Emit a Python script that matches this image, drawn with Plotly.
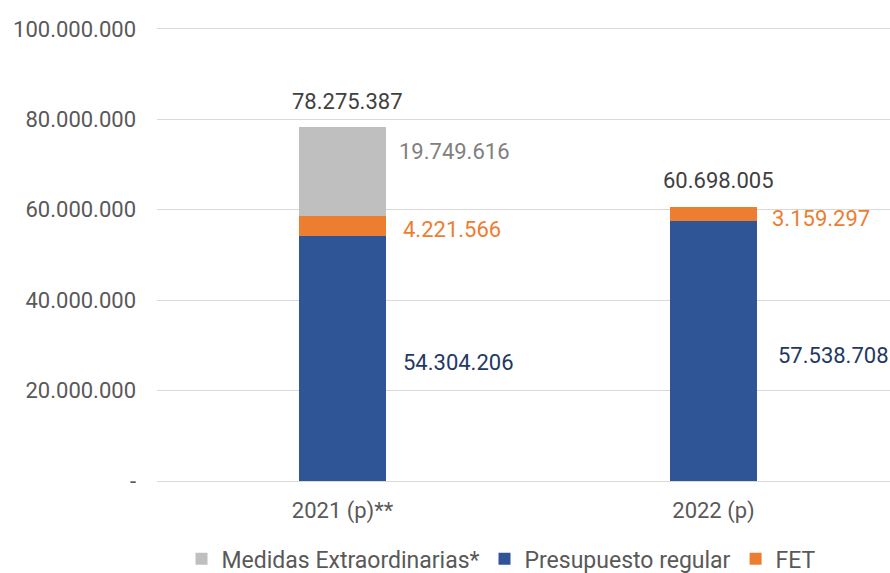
import plotly.graph_objects as go

categories = ["2021 (p)**", "2022 (p)"]
presupuesto_regular = [54304206, 57538708]
fet = [4221566, 3159297]
medidas_extra = [19749616, None]
totals = [78275387, 60698005]

y_tickvals = [0, 20000000, 40000000, 60000000, 80000000, 100000000]
y_ticktext = ["-", "20.000.000", "40.000.000", "60.000.000", "80.000.000", "100.000.000"]

C_BLUE = "#2F5597"
C_ORANGE = "#ED7D31"
C_GRAY = "#BFBFBF"
FONT = "Roboto"
FS = 22


def fmt(v):
    return f"{v:,.0f}".replace(",", ".")


fig = go.Figure()
fig.add_trace(go.Bar(x=categories, y=presupuesto_regular, name="Presupuesto regular",
                     marker=dict(color=C_BLUE, line=dict(width=0)), width=0.237, legendrank=2))
fig.add_trace(go.Bar(x=categories, y=fet, name="FET",
                     marker=dict(color=C_ORANGE, line=dict(width=0)), width=0.237, legendrank=3))
fig.add_trace(go.Bar(x=categories, y=medidas_extra, name="Medidas Extraordinarias*",
                     marker=dict(color=C_GRAY, line=dict(width=0)), width=0.237, legendrank=1))

annotations = []
# series labels to the right of bars
blue_shift = [(14, -4), (18, -5)]
orange_shift = [(14, -4), (12, -5)]
for i, cat in enumerate(categories):
    b = presupuesto_regular[i]
    o = fet[i]
    annotations.append(dict(x=cat, y=b / 2, text=fmt(b), showarrow=False, xanchor="left",
                            xshift=44 + blue_shift[i][0], yshift=blue_shift[i][1],
                            font=dict(family=FONT, size=FS, color="#1F3864")))
    annotations.append(dict(x=cat, y=b + o / 2, text=fmt(o), showarrow=False, xanchor="left",
                            xshift=44 + orange_shift[i][0], yshift=orange_shift[i][1],
                            font=dict(family=FONT, size=FS, color=C_ORANGE)))
    m = medidas_extra[i]
    if m:
        annotations.append(dict(x=cat, y=b + o + m / 2, text=fmt(m), showarrow=False, xanchor="left",
                                xshift=44 + 10, yshift=20,
                                font=dict(family=FONT, size=FS, color="#808080")))
    annotations.append(dict(x=cat, y=totals[i], text=fmt(totals[i]), showarrow=False,
                            xanchor="center", yanchor="middle", xshift=5, yshift=26,
                            font=dict(family=FONT, size=FS, color="#404040")))

fig.update_layout(
    barmode="stack",
    width=890, height=573,
    margin=dict(l=157, r=0, t=24, b=92, autoexpand=False),
    paper_bgcolor="white", plot_bgcolor="white",
    font=dict(family=FONT, size=FS, color="#595959"),
    showlegend=True,
    legend=dict(orientation="h", x=0.47, xanchor="center", y=-0.17, yanchor="middle",
                font=dict(family=FONT, size=23, color="#595959"), itemwidth=30,
                traceorder="normal", tracegroupgap=0),
    annotations=annotations,
)
fig.update_xaxes(range=[-0.5, -0.5 + 733 / 371], showgrid=False, showline=False,
                 ticks="", tickfont=dict(family=FONT, size=FS, color="#595959"),
                 ticklabelstandoff=14, automargin=False)
fig.update_yaxes(range=[0, 101100000], tickvals=y_tickvals, ticktext=y_ticktext,
                 showgrid=True, gridcolor="#D9D9D9", gridwidth=1.3,
                 zeroline=True, zerolinecolor="#D9D9D9", zerolinewidth=1.3,
                 showline=False, ticks="", ticklabelstandoff=20, automargin=False,
                 tickfont=dict(family=FONT, size=FS, color="#595959"))

fig.write_html("out.html", config={"displayModeBar": False},
               post_script="document.body.style.margin='0';document.body.style.overflow='hidden';")
